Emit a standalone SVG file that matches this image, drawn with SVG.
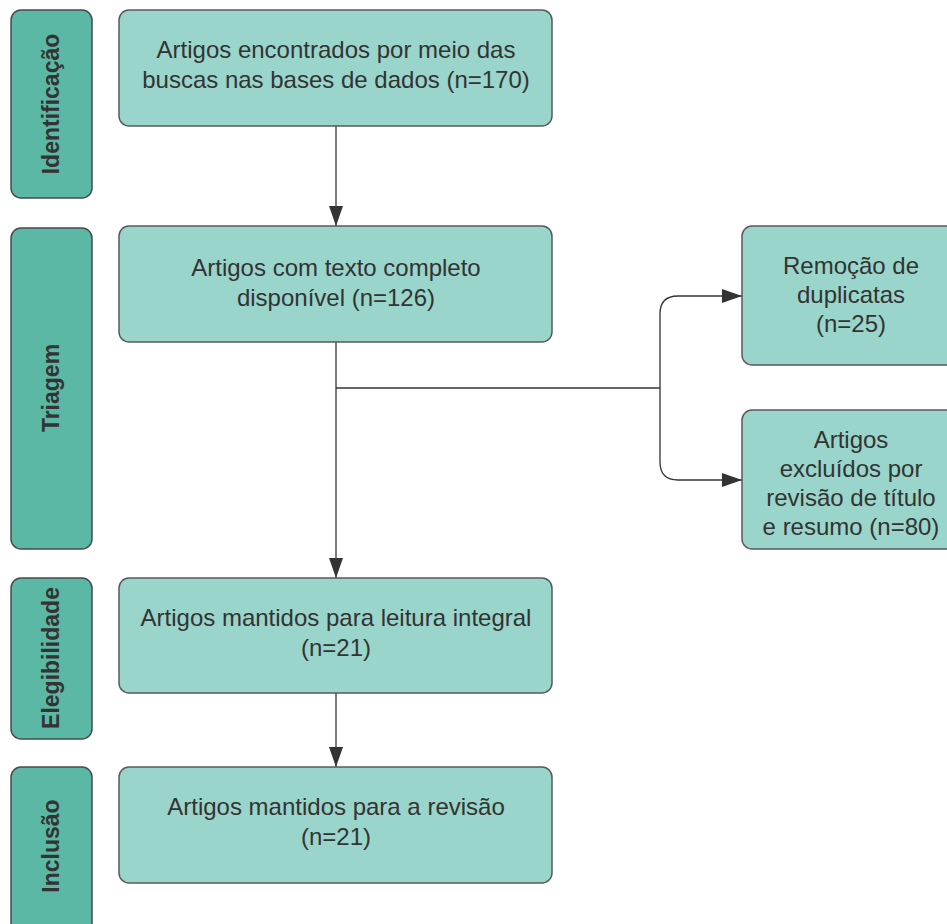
<svg xmlns="http://www.w3.org/2000/svg" width="947" height="924" viewBox="0 0 947 924">
<style>
.box{fill:#99d5ca;stroke:#5a5a5a;stroke-width:1.5}
.side{fill:#5bb8a5;stroke:#4a4a4a;stroke-width:1.5}
.t{font-family:"Liberation Sans",Arial,sans-serif;font-size:24px;fill:#333;text-anchor:middle}
.s{font-family:"Liberation Sans",Arial,sans-serif;font-size:23px;font-weight:bold;fill:#333;text-anchor:middle}
.c{fill:none;stroke:#333;stroke-width:1.3}
</style>
<defs>
<marker id="ah2" viewBox="0 0 20 14" refX="20" refY="7" markerWidth="20" markerHeight="14" markerUnits="userSpaceOnUse" orient="auto">
<path d="M0,0 L20,7 L0,14 Z" fill="#333"/>
</marker>
</defs>
<rect width="947" height="924" fill="#fff"/>
<g id="lane-identificacao"><rect class="side" x="11" y="10" width="81" height="188" rx="10"/><text class="s" transform="translate(59,104) rotate(-90)">Identificação</text></g>
<g id="lane-triagem"><rect class="side" x="11" y="228" width="81" height="321" rx="10"/><text class="s" transform="translate(59,388) rotate(-90)">Triagem</text></g>
<g id="lane-elegibilidade"><rect class="side" x="11" y="578" width="81" height="161" rx="10"/><text class="s" transform="translate(59,658) rotate(-90)">Elegibilidade</text></g>
<g id="lane-inclusao"><rect class="side" x="11" y="767" width="81" height="170" rx="10"/><text class="s" transform="translate(59,846) rotate(-90)">Inclusão</text></g>
<g id="connectors">
<path class="c" d="M336,126 V226" marker-end="url(#ah2)"/>
<path class="c" d="M336,342 V578" marker-end="url(#ah2)"/>
<path class="c" d="M336,388 H660"/>
<path class="c" d="M660,388 V314 Q660,296 678,296 H742" marker-end="url(#ah2)"/>
<path class="c" d="M660,388 V462 Q660,480 678,480 H742" marker-end="url(#ah2)"/>
<path class="c" d="M336,693 V767" marker-end="url(#ah2)"/>
</g>
<g id="n1"><rect class="box" x="119" y="10" width="433" height="116" rx="10"/><text class="t" x="336" y="58">Artigos encontrados por meio das</text><text class="t" x="336" y="88">buscas nas bases de dados (n=170)</text></g>
<g id="n2"><rect class="box" x="119" y="226" width="433" height="116" rx="10"/><text class="t" x="336" y="276">Artigos com texto completo</text><text class="t" x="336" y="306">disponível (n=126)</text></g>
<g id="n3"><rect class="box" x="742" y="226" width="220" height="139" rx="10"/><text class="t" x="851" y="274">Remoção de</text><text class="t" x="851" y="303">duplicatas</text><text class="t" x="851" y="332">(n=25)</text></g>
<g id="n4"><rect class="box" x="742" y="410" width="220" height="139" rx="10"/><text class="t" x="851" y="448">Artigos</text><text class="t" x="851" y="477">excluídos por</text><text class="t" x="851" y="506">revisão de título</text><text class="t" x="851" y="535">e resumo (n=80)</text></g>
<g id="n5"><rect class="box" x="119" y="578" width="433" height="115" rx="10"/><text class="t" x="336" y="626">Artigos mantidos para leitura integral</text><text class="t" x="336" y="656">(n=21)</text></g>
<g id="n6"><rect class="box" x="119" y="767" width="433" height="116" rx="10"/><text class="t" x="336" y="815">Artigos mantidos para a revisão</text><text class="t" x="336" y="845">(n=21)</text></g>
</svg>
